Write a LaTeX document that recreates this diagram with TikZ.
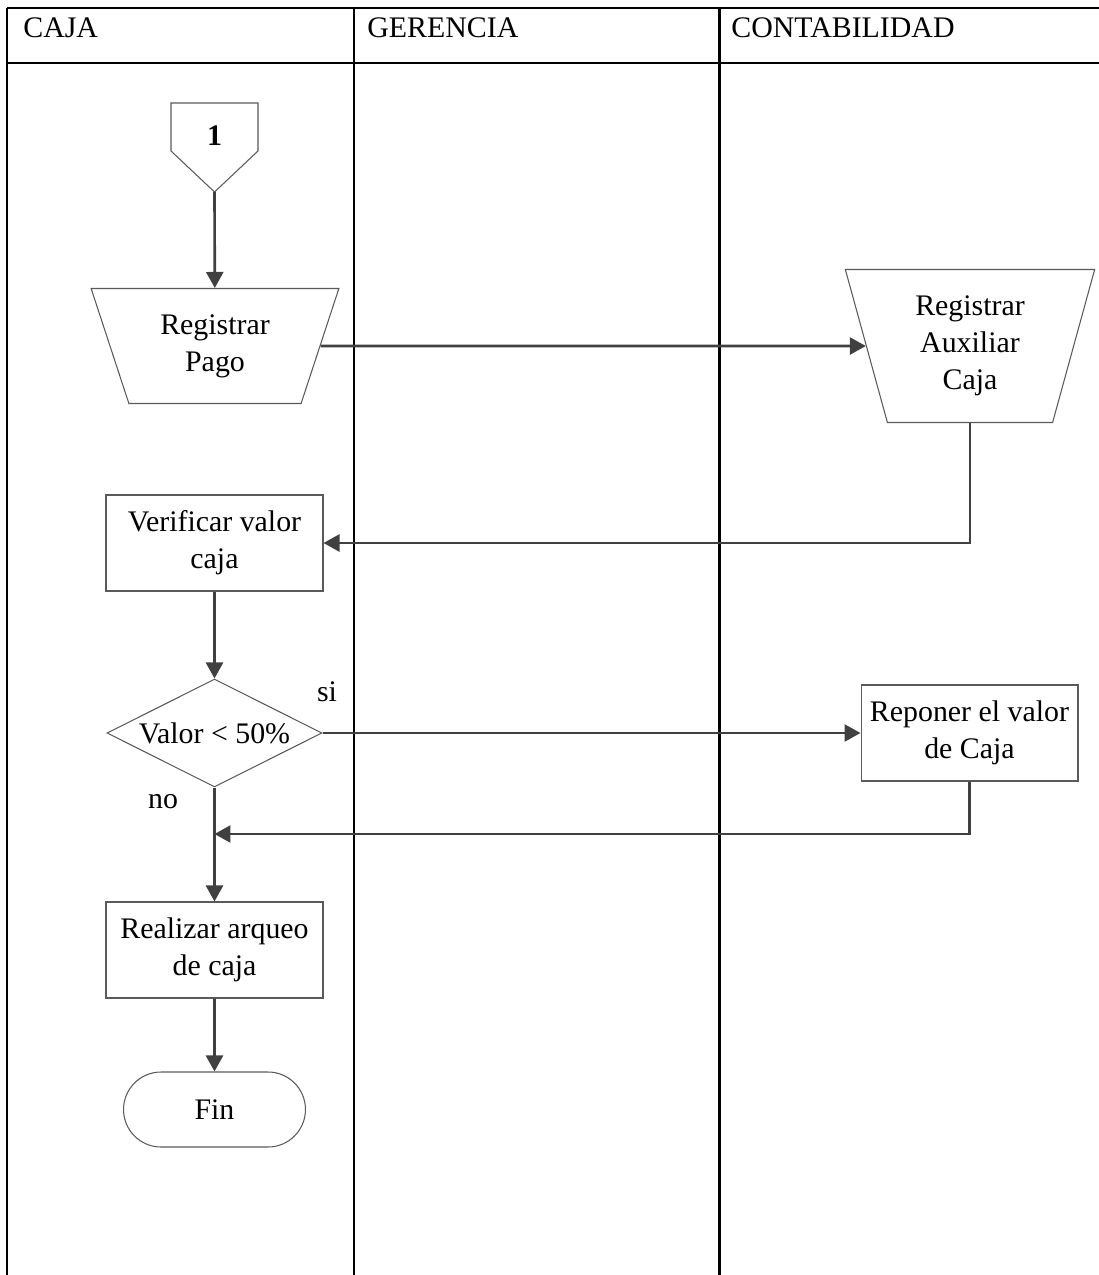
\documentclass[tikz,border=0pt]{standalone}
\usepackage{fontspec}
\setmainfont{Liberation Serif}
\usetikzlibrary{arrows.meta,shapes.geometric,shapes.misc}

\definecolor{flowgray}{HTML}{404040}
\definecolor{edgegray}{HTML}{5A5A5A}

\tikzset{
  txt/.style={font=\fontsize{17}{21}\selectfont, text=black},
  box/.style={txt, draw=edgegray, line width=0.6pt, fill=white, align=center, inner sep=2pt},
  procbox/.style={box, rectangle, minimum width=4.34cm, minimum height=1.92cm},
  manualop/.style={box, trapezium, shape border rotate=180, trapezium stretches=true},
  decision/.style={box, diamond, minimum width=4.3cm, minimum height=2.16cm, inner sep=0pt},
  terminal/.style={box, rounded rectangle, minimum width=3.78cm, minimum height=1.5cm},
  flow/.style={draw=flowgray, line width=1.5pt, -{Triangle[length=0.32cm,width=0.34cm]}},
  lane/.style={draw=black, line width=1.7pt},
  header/.style={txt, anchor=base west, inner sep=0pt},
}

\begin{document}
\begin{tikzpicture}[x=0.02cm, y=-0.02cm]
  \useasboundingbox (0,0) rectangle (1099,1275);

  % swimlane table
  \draw[lane] (7,8) -- (1099,8);
  \draw[lane] (7,63) -- (1099,63);
  \draw[lane] (7,8) -- (7,1275);
  \draw[lane] (354,8) -- (354,1275);
  \draw[lane] (719,8) -- (719,1275);
  \node[header] (hcaja) at (23,37) {CAJA};
  \node[header] (hger) at (367,37) {GERENCIA};
  \node[header] (hcont) at (731,37) {CONTABILIDAD};

  % off-page connector
  \draw[draw=edgegray, line width=0.6pt, fill=white]
    (171,103) -- (258,103) -- (258,151) -- (214.5,192) -- (171,151) -- cycle;
  \node[txt, font=\fontsize{17}{21}\selectfont\bfseries] (con1) at (214.5,136) {1};
  \coordinate (con1tip) at (214.5,192);

  % process nodes
  \node[manualop, trapezium left angle=70, trapezium right angle=70,
        minimum width=5.0cm, minimum height=2.3cm] (pago) at (215,346) {Registrar\\Pago};
  \node[manualop, trapezium left angle=74.5, trapezium right angle=74.5,
        minimum width=5.04cm, minimum height=3.06cm] (aux) at (970,346) {Registrar\\Auxiliar\\Caja};
  \node[procbox] (verif) at (214.5,543) {Verificar valor\\caja};
  \node[decision] (dec) at (214.5,733) {};
  \node[txt] (declbl) at (214.5,733) {Valor < 50\%};
  \node[procbox] (repo) at (969.5,733) {Reponer el valor\\de Caja};
  \node[procbox] (real) at (214.5,950) {Realizar arqueo\\de caja};
  \node[terminal] (fin) at (214.5,1109.5) {Fin};

  \node[txt] (si) at (327,692) {si};
  \node[txt] (no) at (163,802) {no};

  \coordinate (merge) at (214.5,834);

  % connectors
  \draw[flow] (con1tip) -- (pago);
  \draw[flow] (pago) -- (aux);
  \draw[flow] (aux.south) |- (verif.east);
  \draw[flow] (verif) -- (dec);
  \draw[flow] (dec) -- (repo);
  \draw[flow] (repo.south) |- (merge);
  \draw[flow] (dec.south) -- (real.north);
  \draw[flow] (real) -- (fin);
\end{tikzpicture}
\end{document}
